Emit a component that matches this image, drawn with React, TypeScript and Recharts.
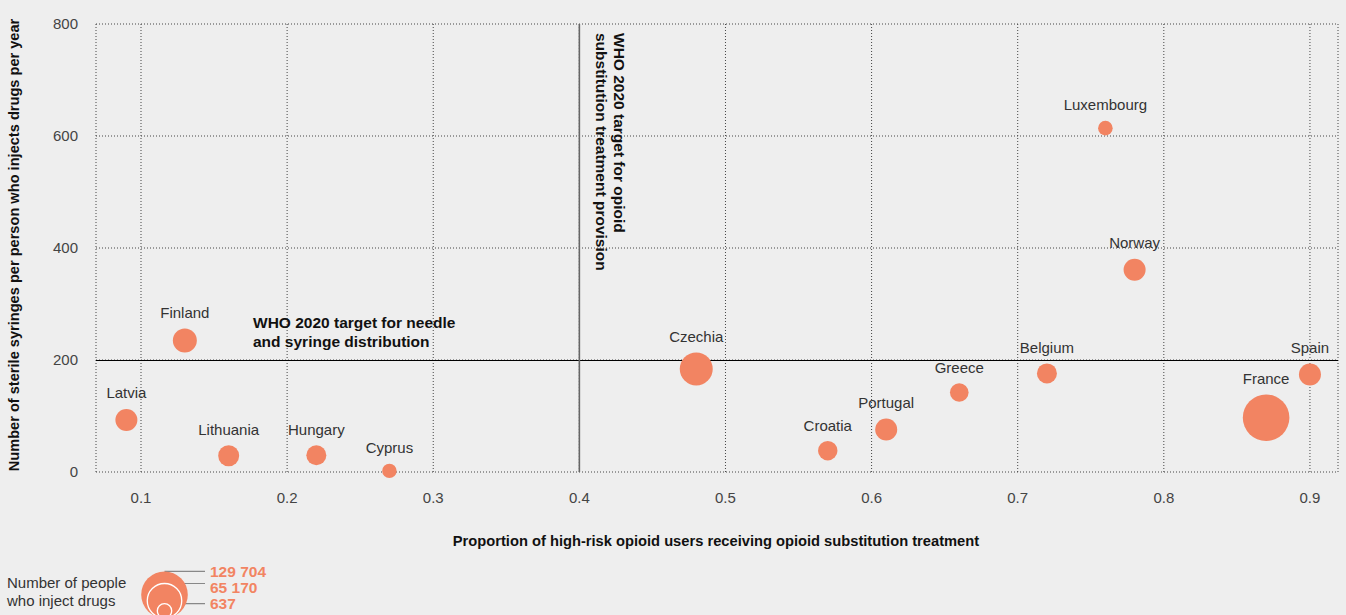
import React from "react"
import {
  ScatterChart,
  Scatter,
  XAxis,
  YAxis,
  ZAxis,
  CartesianGrid,
  ReferenceLine,
} from "recharts"

const COUNTRIES = [
  "Latvia", "Finland", "Lithuania", "Hungary", "Cyprus", "Czechia", "Croatia",
  "Portugal", "Greece", "Belgium", "Luxembourg", "Norway", "France", "Spain",
]
// proportion of high-risk opioid users receiving OST
const OST_COVERAGE = [0.09, 0.13, 0.16, 0.22, 0.27, 0.48, 0.57, 0.61, 0.66, 0.72, 0.76, 0.78, 0.87, 0.9]
// sterile syringes per person who injects drugs per year
const SYRINGES = [93, 235, 29, 30, 2, 184, 38, 76, 142, 176, 614, 361, 97, 174]
// number of people who inject drugs (bubble size)
const PWID = [18800, 24800, 15900, 13300, 637, 58500, 11800, 18800, 9800, 13300, 1000, 18800, 129704, 18800]

const X_TICKS = [0.1, 0.2, 0.3, 0.4, 0.5, 0.6, 0.7, 0.8, 0.9]
const Y_TICKS = [0, 200, 400, 600, 800]
const LEGEND_VALUES = [129704, 65170, 637]

const Z_DOMAIN: [number, number] = [637, 129704]
const Z_RANGE: [number, number] = [163, 1706]

const BUBBLE = "#f28462"
const BG = "#eeeeee"
const FONT = "'Liberation Sans', Arial, sans-serif"

const points = COUNTRIES.map((country, i) => ({
  country,
  x: OST_COVERAGE[i],
  y: SYRINGES[i],
  z: PWID[i],
}))

const fmt = (v: number) => String(v).replace(/\B(?=(\d{3})+(?!\d))/g, " ")

const legendRadius = (v: number) => {
  const area = Z_RANGE[0] + ((v - Z_DOMAIN[0]) / (Z_DOMAIN[1] - Z_DOMAIN[0])) * (Z_RANGE[1] - Z_RANGE[0])
  return Math.sqrt(area / Math.PI)
}

const Bubble = (props: any) => {
  const { cx, cy, size, payload } = props
  const r = Math.sqrt((size || 64) / Math.PI)
  return (
    <g>
      <circle cx={cx} cy={cy} r={r} fill={BUBBLE} />
      <text
        x={cx}
        y={cy - r - 10.5}
        textAnchor="middle"
        fontFamily={FONT}
        fontSize={15}
        fill="#333"
      >
        {payload.country}
      </text>
    </g>
  )
}

const NeedleLabel = (props: any) => {
  const { x, y } = props.viewBox
  return (
    <text x={x + 157} y={y - 32.5} fontFamily={FONT} fontSize={15.5} fontWeight="bold" fill="#111">
      <tspan x={x + 157}>WHO 2020 target for needle</tspan>
      <tspan x={x + 157} dy={19}>and syringe distribution</tspan>
    </text>
  )
}

const OstLabel = (props: any) => {
  const { x, y } = props.viewBox
  return (
    <g fontFamily={FONT} fontSize={15.5} fontWeight="bold" fill="#111">
      <text transform={`translate(${x + 34.5},${y + 9}) rotate(90)`}>WHO 2020 target for opioid</text>
      <text transform={`translate(${x + 16.5},${y + 9}) rotate(90)`}>substitution treatment provision</text>
    </g>
  )
}

const Legend = () => {
  const bottom = 618
  const cx = 164.5
  return (
    <svg width={300} height={70} style={{ position: "absolute", left: 0, top: 545 }}>
      <g transform="translate(0,-545)">
        <text x={7} y={588} fontFamily={FONT} fontSize={15} fill="#333">Number of people</text>
        <text x={7} y={606} fontFamily={FONT} fontSize={15} fill="#333">who inject drugs</text>
        {LEGEND_VALUES.map((v) => {
          const r = legendRadius(v)
          const top = bottom - 2 * r
          return <line key={`l-${v}`} x1={cx} x2={205} y1={top} y2={top} stroke="#888" strokeWidth={1.2} />
        })}
        {LEGEND_VALUES.map((v, i) => {
          const r = legendRadius(v)
          return (
            <circle
              key={`c-${v}`}
              cx={cx}
              cy={bottom - r}
              r={r}
              fill={BUBBLE}
              stroke={i === 0 ? "none" : "#fff"}
              strokeWidth={1.3}
            />
          )
        })}
        {LEGEND_VALUES.map((v, i) => (
          <text
            key={`t-${v}`}
            x={210}
            y={[577, 592.5, 609][i]}
            fontFamily={FONT}
            fontSize={15.5}
            fontWeight="bold"
            fill={BUBBLE}
          >
            {fmt(v)}
          </text>
        ))}
      </g>
    </svg>
  )
}

export default function App() {
  return (
    <div style={{ position: "fixed", left: 0, top: 0, width: 1346, height: 615, background: BG, overflow: "hidden" }}>
      <ScatterChart width={1346} height={615} margin={{ top: 24, right: 8, bottom: 83, left: 0 }}>
        <CartesianGrid stroke="#444" strokeDasharray="1 2" />
        <XAxis
          type="number"
          dataKey="x"
          domain={[0.0692, 0.9192]}
          ticks={X_TICKS}
          axisLine={false}
          tickLine={false}
          tickMargin={14}
          height={60}
          tick={{ fill: "#444", fontSize: 15, fontFamily: FONT }}
          label={{
            content: () => (
              <text x={716} y={546} textAnchor="middle" fontFamily={FONT} fontSize={14.7} fontWeight="bold" fill="#111">
                Proportion of high-risk opioid users receiving opioid substitution treatment
              </text>
            ),
          }}
        />
        <YAxis
          type="number"
          dataKey="y"
          domain={[0, 800]}
          ticks={Y_TICKS}
          width={96}
          axisLine={false}
          tickLine={false}
          tickMargin={12}
          tick={{ fill: "#444", fontSize: 15, fontFamily: FONT }}
          label={{
            content: () => (
              <text
                transform="translate(19,245) rotate(-90)"
                textAnchor="middle"
                fontFamily={FONT}
                fontSize={14.6}
                fontWeight="bold"
                fill="#111"
              >
                Number of sterile syringes per person who injects drugs per year
              </text>
            ),
          }}
        />
        <ZAxis type="number" dataKey="z" domain={Z_DOMAIN} range={Z_RANGE} />
        <ReferenceLine y={200} stroke="#000" strokeWidth={1} shapeRendering="crispEdges" label={NeedleLabel} />
        <ReferenceLine x={0.4} stroke="#666" strokeWidth={1.6} label={OstLabel} />
        <Scatter data={points} fill={BUBBLE} shape={Bubble} isAnimationActive={false} />
      </ScatterChart>
      <Legend />
    </div>
  )
}
